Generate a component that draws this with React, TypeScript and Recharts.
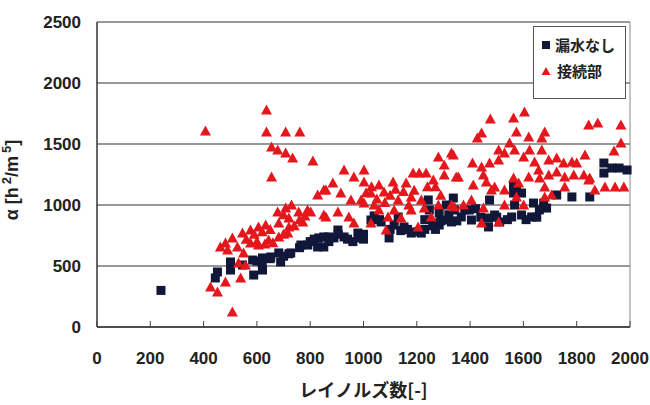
import React from 'react';
import { ScatterChart, Scatter, XAxis, YAxis, CartesianGrid, Legend, ReferenceLine } from 'recharts';

const X_TICKS = [0, 200, 400, 600, 800, 1000, 1200, 1400, 1600, 1800, 2000];
const Y_TICKS = [0, 500, 1000, 1500, 2000, 2500];

// 漏水なし (navy squares): [Re, alpha]
const noLeak: [number, number][] = [
  [240, 300], [444, 402], [452, 451], [501, 533], [501, 467], [546, 508], [588, 426], [621, 467],
  [584, 549], [621, 566], [652, 574], [689, 533], [682, 607], [727, 607], [765, 672], [791, 672],
  [828, 656], [832, 730], [870, 738], [851, 738], [889, 730], [927, 738], [979, 770], [904, 795],
  [851, 656], [1028, 877], [1066, 861], [1096, 730], [1115, 836], [1152, 820], [1179, 770],
  [1217, 770], [1243, 1041], [1247, 959], [1262, 852], [1284, 934], [1284, 836], [1311, 1000],
  [1337, 1057], [1318, 877], [1341, 959], [1130, 902], [1330, 861], [1367, 902], [1397, 959],
  [1405, 877], [1469, 893], [1469, 820], [1492, 918], [1511, 861], [1473, 1041], [1556, 902],
  [1567, 1000], [1593, 918], [1631, 902], [1638, 1016], [1676, 1016], [1687, 975], [1725, 1082],
  [1574, 1148], [1563, 1164], [1563, 1098], [1593, 1098], [1782, 1066], [1849, 1066],
  [1902, 1344], [1902, 1262], [1932, 1303], [1959, 1303], [1989, 1287], [1000, 720], [960, 700],
  [800, 700], [815, 720], [870, 700], [905, 760], [940, 720], [985, 730], [1000, 760], [760, 650],
  [720, 600], [700, 580], [650, 560], [620, 520], [600, 540], [1040, 910], [1060, 880], [1100, 800],
  [1140, 790], [1165, 800], [1200, 780], [1230, 800], [1260, 830], [1290, 870], [1320, 920],
  [1350, 870], [1380, 960], [1420, 970], [1440, 900], [1500, 900], [1540, 880], [1610, 880],
  [1650, 900], [1660, 960], [1230, 880], [1270, 800],
];

// 接続部 (red triangles): [Re, alpha]
const joint: [number, number][] = [
  [407, 1607], [636, 1779], [636, 1598], [708, 1598], [761, 1598], [655, 1475], [678, 1451],
  [708, 1426], [734, 1385], [810, 1361], [655, 1230], [828, 1082], [859, 1123], [678, 943],
  [708, 975], [757, 943], [802, 943], [851, 918], [720, 893], [772, 861], [682, 852], [633, 836],
  [606, 820], [576, 795], [546, 770], [508, 730], [482, 689], [463, 656], [490, 631], [527, 656],
  [576, 689], [606, 672], [644, 713], [682, 738], [716, 770], [720, 820], [550, 607], [531, 525],
  [557, 508], [482, 369], [539, 402], [426, 328], [452, 287], [508, 123],
  [927, 1287], [1002, 1287], [964, 1230], [885, 1180], [851, 1123], [915, 1098], [1002, 1189],
  [1058, 1164], [1111, 1189], [1160, 1180], [1186, 1262], [1209, 1262], [1235, 1262], [1262, 1205],
  [1281, 1393], [1330, 1426], [1303, 1328], [1303, 1246], [1348, 1230], [953, 1041], [991, 1041],
  [1028, 1098], [1077, 1107], [1130, 1041], [1179, 1066], [1217, 1041], [859, 902], [904, 943],
  [945, 902], [964, 852], [1028, 852], [1058, 959], [1092, 902], [1115, 959], [1141, 893],
  [1179, 959], [1228, 975], [1205, 820], [1085, 795], [1254, 902], [1281, 1000], [1330, 1000],
  [1002, 1016], [1040, 1000],
  [1476, 1705], [1563, 1713], [1604, 1762], [1443, 1590], [1427, 1549], [1574, 1598], [1680, 1598],
  [1669, 1549], [1620, 1557], [1845, 1656], [1879, 1672], [1966, 1656], [1966, 1508], [1940, 1443],
  [1831, 1410], [1548, 1508], [1507, 1451], [1529, 1426], [1337, 1410], [1409, 1344], [1443, 1311],
  [1473, 1344], [1507, 1369], [1567, 1451], [1601, 1393], [1623, 1451], [1642, 1352], [1669, 1451],
  [1695, 1369], [1725, 1385], [1751, 1344], [1782, 1352], [1800, 1344], [1356, 1230], [1412, 1164],
  [1450, 1246], [1461, 1189], [1492, 1148], [1529, 1123], [1563, 1221], [1582, 1180], [1620, 1230],
  [1657, 1287], [1661, 1221], [1695, 1246], [1725, 1271], [1755, 1230], [1789, 1246], [1827, 1246],
  [1845, 1205], [1849, 1221], [1680, 1148], [1680, 1066], [1706, 1082], [1755, 1148], [1868, 1123],
  [1906, 1148], [1944, 1148], [1977, 1148], [1405, 1041], [1375, 1000], [1450, 975], [1480, 1123],
  [1529, 1000], [1574, 1066], [1601, 1000], [1341, 984], [1443, 852], [1507, 861],
  [560, 720], [590, 760], [620, 780], [650, 800], [600, 700], [630, 680], [660, 690], [700, 760],
  [740, 830], [760, 880], [780, 910], [790, 960], [700, 920], [730, 1000], [1010, 1100],
  [1030, 1150], [1050, 1050], [1080, 1020], [1100, 1080], [1120, 1130], [1150, 1110], [1170, 1000],
  [1190, 1120], [1240, 1150], [1270, 1150], [1290, 1080],
];

const NAVY = '#111738';
const RED = '#e5161c';
const FONT = '"Liberation Sans", Arial, sans-serif';
const JP_FONT = '"Noto Sans CJK JP", sans-serif';

const toRows = (pts: [number, number][]) => pts.map(([re, a]) => ({ re, a }));

const Square = (p: any) => <rect x={p.cx - 4.5} y={p.cy - 4.5} width={9} height={9} fill={NAVY} />;
const Triangle = (p: any) => (
  <path d={`M${p.cx},${p.cy - 5.5}L${p.cx + 5.5},${p.cy + 4.5}L${p.cx - 5.5},${p.cy + 4.5}Z`} fill={RED} />
);

const XTick = ({ x, y, payload }: any) => (
  <g>
    <line x1={x} y1={y} x2={x} y2={y - 6} stroke="#444" />
    <text x={x} y={y + 37} textAnchor="middle" fontFamily={FONT} fontWeight="bold" fontSize={17} fill="#222">
      {payload.value}
    </text>
  </g>
);

const YTick = ({ x, y, payload }: any) => (
  <text x={x - 16} y={y} dy="0.36em" textAnchor="end" fontFamily={FONT} fontWeight="bold" fontSize={17} fill="#222">
    {payload.value}
  </text>
);

const YLabel = () => (
  <text x={18} y={180} transform="rotate(-90, 18, 180)" textAnchor="middle" fontFamily={FONT} fontWeight="bold" fontSize={18} fill="#222">
    α [h
    <tspan dx={3} dy={-7} fontSize={13}>2</tspan>
    <tspan dy={7}>/m</tspan>
    <tspan dx={3} dy={-7} fontSize={13}>5</tspan>
    <tspan dy={7}>]</tspan>
  </text>
);

const LegendBox = () => (
  <div style={{ border: '1px solid #555', background: '#fff', width: 91, height: 71, boxSizing: 'content-box', fontFamily: JP_FONT, fontWeight: 'bold', fontSize: 15, color: '#222' }}>
    <div style={{ display: 'flex', alignItems: 'center', marginTop: 7, marginLeft: 7 }}>
      <svg width={10} height={10}><rect x={1} y={1} width={8} height={8} fill={NAVY} /></svg>
      <span style={{ marginLeft: 4 }}>漏水なし</span>
    </div>
    <div style={{ display: 'flex', alignItems: 'center', marginTop: 5, marginLeft: 7 }}>
      <svg width={10} height={10}><path d="M5,1L9.5,9L0.5,9Z" fill={RED} /></svg>
      <span style={{ marginLeft: 6 }}>接続部</span>
    </div>
  </div>
);

export default function App() {
  return (
    <div style={{ position: 'absolute', left: 0, top: 0, background: '#fff' }}>
      <ScatterChart width={650} height={405} margin={{ top: 22, right: 20, bottom: 0, left: 0 }}>
        <CartesianGrid vertical={false} stroke="#333" strokeWidth={1.2} />
        <XAxis
          type="number" dataKey="re" domain={[0, 2000]} ticks={X_TICKS} height={78}
          axisLine={{ stroke: '#333', strokeWidth: 1.5 }} tickLine={false} tickSize={0} tickMargin={0}
          tick={<XTick />} interval={0}
          label={{ value: 'レイノルズ数[-]', position: 'insideBottom', offset: 8, fontFamily: JP_FONT, fontWeight: 'bold', fontSize: 18, fill: '#222' }}
        />
        <YAxis
          type="number" dataKey="a" domain={[0, 2500]} ticks={Y_TICKS} width={97}
          axisLine={{ stroke: '#333', strokeWidth: 1.5 }} tickLine={false} tickSize={0} tickMargin={0}
          tick={<YTick />} interval={0} label={<YLabel />}
        />
        <ReferenceLine x={2000} stroke="#888" />
        <Legend layout="vertical" align="center" verticalAlign="middle" wrapperStyle={{ top: 26, left: 533, width: 93 }} content={<LegendBox />} />
        <Scatter name="漏水なし" data={toRows(noLeak)} shape={Square} isAnimationActive={false} />
        <Scatter name="接続部" data={toRows(joint)} shape={Triangle} isAnimationActive={false} />
      </ScatterChart>
    </div>
  );
}
